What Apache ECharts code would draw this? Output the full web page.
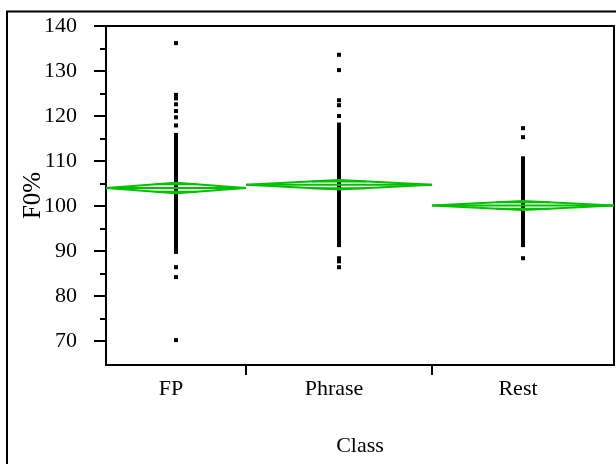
<!DOCTYPE html>
<html>
<head>
<meta charset="utf-8">
<script src="https://cdn.jsdelivr.net/npm/echarts@6/dist/echarts.min.js"></script>
<style>html,body{margin:0;padding:0;background:#fff}#c{width:616px;height:464px}</style>
</head>
<body>
<div id="c"></div>
<script>
// ---- data ----
const categories = ['FP', 'Phrase', 'Rest'];
// proportional category widths (JMP "X axis proportional" ~ group sizes)
const catWidths = [140, 186, 182];
const means = [104.0, 104.7, 100.1];
const ciHalf = [1.15, 1.05, 1.0];
const yTicks = [70, 80, 90, 100, 110, 120, 130, 140];
const yMinorTicks = [75, 85, 95, 105, 115, 125, 135];

const fpValues = [136.2, 124.7, 123.9, 122.6, 121.1, 119.7, 117.9,
  115.8, 115.3, 114.7, 114.1, 113.6, 113.0, 112.5, 111.9, 111.3, 110.8, 110.2, 109.6, 109.1,
  108.5, 107.9, 107.4, 106.8, 106.2, 105.7, 105.1, 104.5, 104.0, 103.4, 102.8, 102.3, 101.7,
  101.1, 100.6, 100.0, 99.4, 98.9, 98.3, 97.7, 97.2, 96.6, 96.0, 95.5, 94.9, 94.3, 93.8,
  93.2, 92.6, 92.1, 91.5, 90.9, 90.4, 89.8, 86.4, 84.2, 70.2];
const phraseValues = [133.6, 130.2, 123.5, 122.4, 120.0,
  118.1, 117.5, 117.0, 116.4, 115.8, 115.3, 114.7, 114.1, 113.6, 113.0, 112.4, 111.9, 111.3,
  110.7, 110.2, 109.6, 109.0, 108.5, 107.9, 107.3, 106.8, 106.2, 105.6, 105.1, 104.5, 103.9,
  103.4, 102.8, 102.2, 101.7, 101.1, 100.5, 100.0, 99.4, 98.8, 98.3, 97.7, 97.1, 96.6, 96.0,
  95.4, 94.9, 94.3, 93.7, 93.2, 92.6, 92.0, 91.5, 91.3, 88.4, 87.7, 86.4];
const restValues = [117.3, 115.3,
  110.6, 110.0, 109.4, 108.9, 108.3, 107.7, 107.2, 106.6, 106.0, 105.5, 104.9, 104.3, 103.8,
  103.2, 102.6, 102.1, 101.5, 100.9, 100.4, 99.8, 99.2, 98.7, 98.1, 97.5, 97.0, 96.4, 95.8,
  95.3, 94.7, 94.1, 93.6, 93.0, 92.4, 91.9, 91.3, 88.4];
const groupValues = [fpValues, phraseValues, restValues];

// ---- derived from data ----
const starts = [];
let acc = 0;
catWidths.forEach(w => { starts.push(acc); acc += w; });
const total = acc;
const centers = catWidths.map((w, i) => starts[i] + w / 2);
const boundaries = starts.slice(1);

const pointData = [];
groupValues.forEach((vals, i) => vals.forEach(v => pointData.push([centers[i], v])));
const diamondData = categories.map((c, i) => [starts[i], starts[i] + catWidths[i], means[i], ciHalf[i]]);

const FONT = "'Liberation Serif', 'Times New Roman', serif";
const GREEN = '#00c000';
const Y_MIN = 140 - 339 / 4.5;

const chart = echarts.init(document.getElementById('c'), null, {renderer: 'canvas'});
chart.setOption({
  animation: false,
  backgroundColor: '#fff',
  grid: {left: 106, right: 2, top: 26, bottom: 99, containLabel: false},
  graphic: [{
    type: 'rect', silent: true, z: 100,
    shape: {x: 7, y: 11.5, width: 700, height: 600},
    style: {fill: 'none', stroke: '#000', lineWidth: 2}
  }],
  xAxis: [{
    type: 'value', min: 0, max: total, position: 'bottom',
    axisLine: {show: true, onZero: false, lineStyle: {color: '#000', width: 2}},
    axisTick: {show: true, customValues: boundaries, length: 10, lineStyle: {color: '#000', width: 2}},
    axisLabel: {
      show: true, customValues: centers, margin: 13, color: '#000',
      fontFamily: FONT, fontSize: 22, padding: [0, 10, 0, 0],
      formatter: function (v) {
        let best = 0;
        centers.forEach((c, i) => { if (Math.abs(c - v) < Math.abs(centers[best] - v)) best = i; });
        return categories[best];
      }
    },
    splitLine: {show: false},
    name: 'Class', nameLocation: 'middle', nameGap: 70, nameMoveOverlap: false,
    nameTextStyle: {fontFamily: FONT, fontSize: 22, color: '#000'}
  }, {
    type: 'value', min: 0, max: total, position: 'top',
    axisLine: {show: true, onZero: false, lineStyle: {color: '#000', width: 2}},
    axisTick: {show: false}, axisLabel: {show: false}, splitLine: {show: false}
  }],
  yAxis: [{
    type: 'value', min: Y_MIN, max: 140, position: 'left',
    axisLine: {show: true, onZero: false, lineStyle: {color: '#000', width: 2}},
    axisTick: {show: true, customValues: yTicks, length: 12, lineStyle: {color: '#000', width: 2}},
    axisLabel: {show: true, customValues: yTicks, margin: 29, color: '#000', fontFamily: FONT, fontSize: 22},
    splitLine: {show: false},
    name: 'F0%', nameLocation: 'middle', nameGap: 60, nameMoveOverlap: false,
    nameTextStyle: {fontFamily: FONT, fontSize: 25, color: '#000'}
  }, {
    type: 'value', min: Y_MIN, max: 140, position: 'left',
    axisLine: {show: false},
    axisTick: {show: true, customValues: yMinorTicks, length: 6, lineStyle: {color: '#000', width: 2}},
    axisLabel: {show: false}, splitLine: {show: false}
  }, {
    type: 'value', min: Y_MIN, max: 140, position: 'right',
    axisLine: {show: true, onZero: false, lineStyle: {color: '#000', width: 2}},
    axisTick: {show: false}, axisLabel: {show: false}, splitLine: {show: false}
  }],
  series: [{
    type: 'scatter', xAxisIndex: 0, yAxisIndex: 0,
    symbol: 'rect', symbolSize: 4, large: false,
    itemStyle: {color: '#000', opacity: 1},
    data: pointData, z: 3
  }, {
    type: 'custom', xAxisIndex: 0, yAxisIndex: 0, z: 4,
    data: diamondData,
    renderItem: function (params, api) {
      const x0 = api.value(0), x1 = api.value(1), m = api.value(2), h = api.value(3);
      const xc = (x0 + x1) / 2, w = x1 - x0;
      const L = api.coord([x0, m]), R = api.coord([x1, m]);
      const T = api.coord([xc, m + h]), B = api.coord([xc, m - h]);
      const k = 1 / Math.SQRT2;
      const ow = w / 2 * (1 - k);
      const oT1 = api.coord([xc - ow, m + h * k]), oT2 = api.coord([xc + ow, m + h * k]);
      const oB1 = api.coord([xc - ow, m - h * k]), oB2 = api.coord([xc + ow, m - h * k]);
      const st = {stroke: GREEN, lineWidth: 2, fill: 'none'};
      return {
        type: 'group', children: [
          {type: 'polygon', shape: {points: [L, T, R, B]}, style: st},
          {type: 'line', shape: {x1: L[0], y1: L[1], x2: R[0], y2: R[1]}, style: st},
          {type: 'line', shape: {x1: oT1[0], y1: oT1[1], x2: oT2[0], y2: oT2[1]}, style: st},
          {type: 'line', shape: {x1: oB1[0], y1: oB1[1], x2: oB2[0], y2: oB2[1]}, style: st}
        ]
      };
    }
  }]
});
</script>
</body>
</html>
